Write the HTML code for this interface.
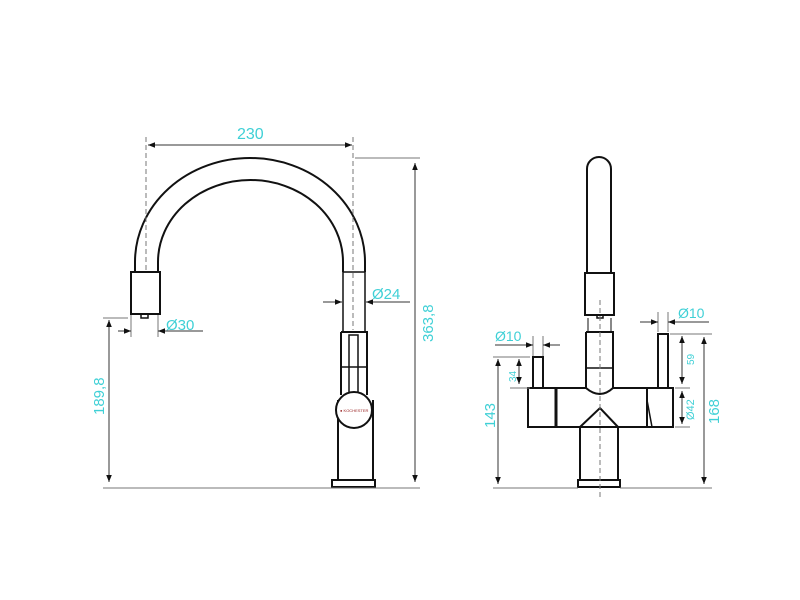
<!DOCTYPE html>
<html><head><meta charset="utf-8"><style>
html,body{margin:0;padding:0;background:#fff;}
svg{display:block;}
text{font-family:"Liberation Sans",sans-serif;fill:#3fd0d6;}
</style></head><body>
<svg width="800" height="600" viewBox="0 0 800 600" xmlns="http://www.w3.org/2000/svg">
<defs>
<marker id="a" viewBox="0 0 10 10" refX="10" refY="5" markerWidth="7" markerHeight="7" orient="auto-start-reverse"><path d="M0,1 L10,5 L0,9 z" fill="#111"/></marker>
</defs>
<!-- LEFT FAUCET -->
<g fill="none" stroke="#111" stroke-width="2">
<path d="M135,272 L135,262 A115,104 0 0 1 365,262 L365,272"/>
<path d="M158,272 L158,262 A92.5,82 0 0 1 343,262 L343,272"/>
<rect x="131" y="272" width="29" height="42"/>
<rect x="141" y="314" width="7" height="4" stroke-width="1.5"/>
<rect x="343" y="272" width="22" height="60" stroke-width="1.5"/>
<path d="M341,332 L367,332 L367,395 M341,332 L341,395"/>
<rect x="349" y="335" width="9" height="60" stroke-width="1.5"/>
<line x1="341" y1="367" x2="367" y2="367" stroke-width="1.5"/>
<path d="M338,400 L338,480 L373,480 L373,400"/>
<circle cx="354" cy="410" r="18" fill="#fff"/>
<rect x="332" y="480" width="43" height="7" fill="#fff"/>
</g>
<text x="340" y="412" font-size="4" style="fill:#922">● KOCHESTER</text>
<!-- left dims -->
<g stroke="#777" stroke-width="1" fill="none">
<line x1="146" y1="137" x2="146" y2="272" stroke-dasharray="5,3"/>
<line x1="353" y1="137" x2="353" y2="330" stroke-dasharray="5,3"/>
<line x1="158" y1="315" x2="158" y2="337"/>
<line x1="131" y1="315" x2="131" y2="337"/>
<line x1="355" y1="158" x2="420" y2="158"/>
<line x1="103" y1="318" x2="128" y2="318"/>
<line x1="103" y1="488" x2="420" y2="488"/>
</g>
<g stroke="#333" stroke-width="1">
<line x1="148" y1="145" x2="352" y2="145" marker-start="url(#a)" marker-end="url(#a)"/>
<line x1="415" y1="163" x2="415" y2="482" marker-start="url(#a)" marker-end="url(#a)"/>
<line x1="109" y1="320" x2="109" y2="482" marker-start="url(#a)" marker-end="url(#a)"/>
<line x1="323" y1="302" x2="342" y2="302" marker-end="url(#a)"/>
<line x1="410" y1="302" x2="366" y2="302" marker-end="url(#a)"/>
<line x1="118" y1="331" x2="131" y2="331" marker-end="url(#a)"/>
<line x1="203" y1="331" x2="158" y2="331" marker-end="url(#a)"/>
</g>
<text x="237" y="139" font-size="16">230</text>
<text x="372" y="299" font-size="15">Ø24</text>
<text x="166" y="330" font-size="15">Ø30</text>
<text transform="translate(104,415) rotate(-90)" font-size="15">189,8</text>
<text transform="translate(433,342) rotate(-90)" font-size="15">363,8</text>
<!-- RIGHT FAUCET -->
<g fill="none" stroke="#111" stroke-width="2">
<path d="M587,273 L587,169 A12,12 0 0 1 611,169 L611,273"/>
<rect x="585" y="273" width="29" height="42"/>
<rect x="597" y="315" width="6" height="3" stroke-width="1.5"/>
<path d="M588,318 L588,332 M611,318 L611,332" stroke-width="1"/>
<path d="M586,332 L613,332 L613,388 M586,332 L586,388"/>
<line x1="586" y1="368" x2="613" y2="368" stroke-width="1.5"/>
<path d="M528,388 L586,388 Q600,400 613,388 L673,388 L673,427 L528,427 Z"/>
<line x1="556" y1="388" x2="556" y2="427" stroke-width="3"/>
<line x1="647" y1="388" x2="647" y2="427"/>
<path d="M647,400 L652,427" stroke-width="1.5"/>
<path d="M580,427 L600,408 L618,427"/>
<path d="M580,427 L580,480 M618,427 L618,480"/>
<rect x="578" y="480" width="42" height="7" fill="#fff"/>
<path d="M533,388 L533,357 L543,357 L543,388"/>
<path d="M658,388 L658,334 L668,334 L668,388"/>
</g>
<g stroke="#777" stroke-width="1" fill="none">
<line x1="600" y1="300" x2="600" y2="500" stroke-dasharray="5,3"/>
<line x1="533" y1="336" x2="533" y2="356"/>
<line x1="543" y1="336" x2="543" y2="356"/>
<line x1="658" y1="312" x2="658" y2="332"/>
<line x1="668" y1="312" x2="668" y2="332"/>
<line x1="493" y1="357" x2="530" y2="357"/>
<line x1="510" y1="388" x2="530" y2="388"/>
<line x1="670" y1="334" x2="712" y2="334"/>
<line x1="675" y1="388" x2="690" y2="388"/>
<line x1="675" y1="427" x2="690" y2="427"/>
<line x1="493" y1="488" x2="578" y2="488"/>
<line x1="620" y1="488" x2="712" y2="488"/>
</g>
<g stroke="#333" stroke-width="1">
<line x1="498" y1="359" x2="498" y2="484" marker-start="url(#a)" marker-end="url(#a)"/>
<line x1="519" y1="359" x2="519" y2="384" marker-start="url(#a)" marker-end="url(#a)"/>
<line x1="682" y1="336" x2="682" y2="384" marker-start="url(#a)" marker-end="url(#a)"/>
<line x1="682" y1="391" x2="682" y2="424" marker-start="url(#a)" marker-end="url(#a)"/>
<line x1="704" y1="337" x2="704" y2="484" marker-start="url(#a)" marker-end="url(#a)"/>
<line x1="495" y1="345" x2="533" y2="345" marker-end="url(#a)"/>
<line x1="560" y1="345" x2="543" y2="345" marker-end="url(#a)"/>
<line x1="640" y1="322" x2="658" y2="322" marker-end="url(#a)"/>
<line x1="709" y1="322" x2="668" y2="322" marker-end="url(#a)"/>
</g>
<text x="495" y="341" font-size="14">Ø10</text>
<text x="678" y="318" font-size="14">Ø10</text>
<text transform="translate(516,382) rotate(-90)" font-size="10">34</text>
<text transform="translate(694,365) rotate(-90)" font-size="10">59</text>
<text transform="translate(694,420) rotate(-90)" font-size="11">Ø42</text>
<text transform="translate(495,428) rotate(-90)" font-size="15">143</text>
<text transform="translate(719,424) rotate(-90)" font-size="15">168</text>
</svg>
</body></html>
